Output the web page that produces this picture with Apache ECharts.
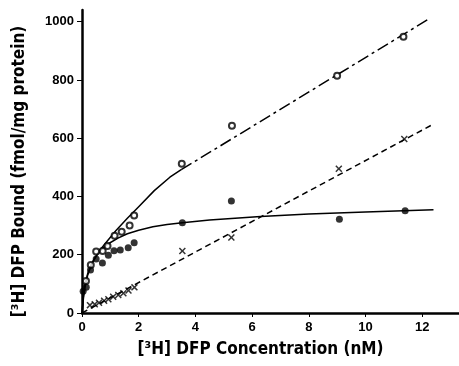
<!DOCTYPE html>
<html>
<head>
<meta charset="utf-8">
<script src="https://cdn.jsdelivr.net/npm/echarts@6/dist/echarts.min.js"></script>
<style>
  html, body { margin: 0; padding: 0; background: #fff; }
  #chart { width: 459px; height: 366px; }
</style>
</head>
<body>
<div id="chart"></div>
<script>
// tick labels
const xTicks = [0, 2, 4, 6, 8, 10, 12];
const yTicks = [0, 200, 400, 600, 800, 1000];

// open circles (total binding)
const openX = [0.14, 0.31, 0.5, 0.73, 0.9, 1.15, 1.4, 1.68, 1.84, 3.52, 5.29, 9.0, 11.34];
const openY = [110, 165, 211, 213, 230, 265, 279, 300, 335, 512, 643, 814, 948];

// filled circles (specific binding)
const filledX = [0.04, 0.15, 0.3, 0.5, 0.72, 0.93, 1.13, 1.35, 1.63, 1.84, 3.54, 5.27, 9.08, 11.4];
const filledY = [75, 88, 148, 185, 172, 198, 214, 216, 224, 241, 310, 384, 322, 351];

// crosses (nonspecific binding)
const crossX = [0.28, 0.45, 0.6, 0.78, 0.93, 1.1, 1.28, 1.46, 1.64, 1.85, 3.54, 5.27, 9.06, 11.37];
const crossY = [27, 30, 35, 42, 47, 56, 62, 68, 77, 88, 213, 259, 495, 597];

// drawn lines
const upperCurveX = [0, 0.05, 0.1, 0.2, 0.35, 0.6, 0.9, 1.2, 1.6, 2.0, 2.55, 3.1, 3.5];
const upperCurveY = [0, 60, 95, 135, 172, 212, 248, 283, 325, 365, 420, 466, 492];
const upperLineX = [3.5, 12.3];
const upperLineY = [492, 1013];
const lowerCurveX = [0, 0.05, 0.1, 0.2, 0.35, 0.6, 0.9, 1.27, 1.6, 2.0, 2.5, 3.0, 3.54, 4.5, 6.3, 8.0, 10, 12.4];
const lowerCurveY = [0, 50, 85, 130, 170, 210, 236, 257, 272, 284, 296, 304, 310, 319, 331, 340, 347, 354];
const dashedX = [0, 12.35];
const dashedY = [0, 646];

const pairs = (xs, ys) => xs.map((x, i) => [x, ys[i]]);

const tickFont = { color: '#000', fontFamily: 'Liberation Sans', fontWeight: 'bold', fontSize: 13 };
const titleFont = { color: '#000', fontFamily: 'DejaVu Sans Condensed', fontWeight: 'bold', fontSize: 17 };
const crossPath = 'path://M0,1.5L1.5,0L5,3.5L8.5,0L10,1.5L6.5,5L10,8.5L8.5,10L5,6.5L1.5,10L0,8.5L3.5,5Z';

const chart = echarts.init(document.getElementById('chart'));
chart.setOption({
  animation: false,
  backgroundColor: '#fff',
  grid: { left: 82, right: 0, top: 10, bottom: 53 },
  xAxis: {
    type: 'value',
    min: 0,
    max: 13.3,
    name: '[³H] DFP Concentration (nM)',
    nameLocation: 'middle',
    nameGap: 28,
    nameTextStyle: Object.assign({}, titleFont, { padding: [0, 20, 0, 0] }),
    axisLine: { show: true, lineStyle: { color: '#000', width: 2.5 } },
    axisTick: { show: true, length: 4, customValues: xTicks, lineStyle: { color: '#000', width: 1 } },
    axisLabel: Object.assign({}, tickFont, { customValues: xTicks, margin: 8 }),
    splitLine: { show: false }
  },
  yAxis: {
    type: 'value',
    min: 0,
    max: 1040,
    name: '[³H] DFP Bound (fmol/mg protein)',
    nameLocation: 'middle',
    nameRotate: 90,
    nameGap: 54,
    nameTextStyle: Object.assign({}, titleFont, { padding: [0, 20, 0, 0] }),
    axisLine: { show: true, lineStyle: { color: '#000', width: 2.5 } },
    axisTick: { show: true, length: 5, customValues: yTicks, lineStyle: { color: '#000', width: 1 } },
    axisLabel: Object.assign({}, tickFont, { customValues: yTicks, margin: 8, formatter: (v) => String(v) }),
    splitLine: { show: false }
  },
  series: [
    {
      type: 'line', data: pairs(upperCurveX, upperCurveY),
      showSymbol: false, lineStyle: { color: '#000', width: 1.5 }, z: 1
    },
    {
      type: 'line', data: pairs(upperLineX, upperLineY),
      showSymbol: false, lineStyle: { color: '#000', width: 1.5, type: [12, 4, 3, 4] }, z: 1
    },
    {
      type: 'line', data: pairs(lowerCurveX, lowerCurveY),
      showSymbol: false, lineStyle: { color: '#000', width: 1.5 }, z: 1
    },
    {
      type: 'line', data: pairs(dashedX, dashedY),
      showSymbol: false, lineStyle: { color: '#000', width: 1.5, type: [6, 4] }, z: 1
    },
    {
      type: 'scatter', data: pairs(openX, openY), symbol: 'emptyCircle', symbolSize: 6,
      itemStyle: { color: '#000', borderWidth: 1.2 }, z: 3
    },
    {
      type: 'scatter', data: pairs(filledX, filledY), symbol: 'circle', symbolSize: 7,
      itemStyle: { color: '#000' }, z: 3
    },
    {
      type: 'scatter', data: pairs(crossX, crossY), symbol: crossPath, symbolSize: 7,
      itemStyle: { color: '#000' }, z: 3
    }
  ]
});
</script>
</body>
</html>
